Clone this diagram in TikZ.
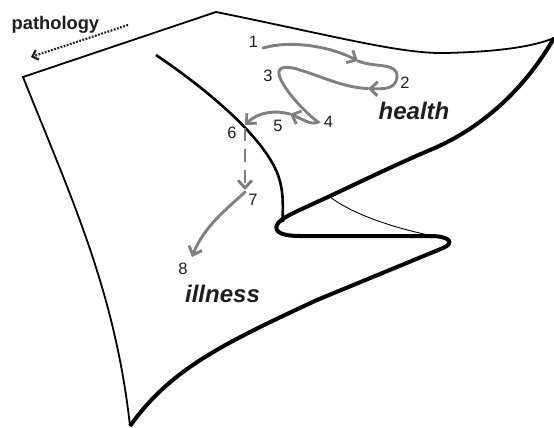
\documentclass[tikz,border=0pt]{standalone}
\usepackage{fontspec}
\setmainfont{Liberation Sans}
\usetikzlibrary{arrows.meta}
\definecolor{trailgray}{RGB}{128,128,128}
\definecolor{ink}{RGB}{30,30,30}

\begin{document}
\begin{tikzpicture}[x=1pt,y=-1pt,
  sheet/.style={line width=1.8pt, line join=miter},
  ridge/.style={line width=2.6pt},
  rim/.style={line width=4pt, line join=round},
  crease/.style={line width=0.9pt},
  trail/.style={draw=trailgray, line width=2.9pt, line cap=round,
    -{Straight Barb[length=7.5pt,width=14pt]}},
  num/.style={font=\fontsize{16.5}{16}\selectfont, text=ink, inner sep=0pt, anchor=base},
  tag/.style={font=\fontsize{24}{24}\selectfont\bfseries\itshape, text=ink, inner sep=0pt, anchor=base},
]
\useasboundingbox (0,0) rectangle (554,428);

% the sheet: thin outer border
\draw[sheet] (130,426) .. controls (115,290) and (70,195) .. (23,77)
  -- (216,12) .. controls (330,35) and (400,54) .. (445,53)
  .. controls (490,52) and (530,48) .. (554,38);

% heavy rim with the fold
\draw[rim] (554,38) .. controls (530,80) and (490,125) .. (430,150)
  .. controls (395,165) and (360,182) .. (330,196)
  .. controls (300,210) and (285,216) .. (279,222)
  .. controls (273,229) and (276,236) .. (300,236) -- (430,236)
  .. controls (450,236) and (455,243) .. (443,248) -- (317,300)
  .. controls (220,345) and (170,370) .. (130,426);

% ridge line running into the fold
\draw[ridge] (156,55) .. controls (215,95) and (265,140) .. (278,175)
  .. controls (285,195) and (282,210) .. (283,222);

% thin crease under the fold
\draw[crease] (330,197) .. controls (350,212) and (385,226) .. (433,236);

% labels
\node[font=\fontsize{18.3}{18}\selectfont\bfseries, text=ink, inner sep=0pt, anchor=base west]
  (patho) at (11.5,30) {pathology};
\node[tag] (health) at (414,119.5) {health};
\node[tag] (illness) at (222.5,302.5) {illness};

\node[num] (n1) at (253.5,47.7) {1};
\node[num] (n2) at (405,88.3) {2};
\node[num] (n3) at (268,81.7) {3};
\node[num] (n4) at (328.5,127.7) {4};
\node[num] (n5) at (278,131.7) {5};
\node[num] (n6) at (232,138) {6};
\node[num] (n7) at (253,205) {7};
\node[num] (n8) at (183,274) {8};

% pathology direction
\coordinate (q1) at (128,25);
\coordinate (q2) at (31,57);
\draw[ink, line width=2.2pt, line cap=butt, dash pattern=on 1.8pt off 1.5pt,
  -{Straight Barb[length=5pt,width=10pt]}] (q1) -- (q2);

% trajectory points
\coordinate (a1) at (263,48);
\coordinate (a2) at (358,61);
\coordinate (a3) at (368,88.5);
\coordinate (a4) at (290,114);
\coordinate (a6) at (245,125);
\coordinate (d6) at (245,128);
\coordinate (a7) at (245,190);
\coordinate (b7) at (245,192);
\coordinate (a8) at (192,257);

% trajectory
\draw[trail] (a1) .. controls (290,40) and (330,46) .. (a2);
\draw[trail] (a2) .. controls (375,68) and (398,62) .. (397,77)
  .. controls (396,90) and (382,89) .. (a3);
\draw[trail] (a3) .. controls (345,88) and (320,76) .. (300,70)
  .. controls (285,65) and (274,66) .. (281,80)
  .. controls (290,98) and (312,118) .. (318,122)
  .. controls (312,126) and (300,118) .. (a4);
\draw[trail] (a4) .. controls (275,110) and (258,112) .. (a6);
\draw[trail, line cap=butt, dash pattern=on 13pt off 8pt] (d6) -- (a7);
\draw[trail] (b7) .. controls (228,208) and (204,226) .. (a8);
\end{tikzpicture}
\end{document}
